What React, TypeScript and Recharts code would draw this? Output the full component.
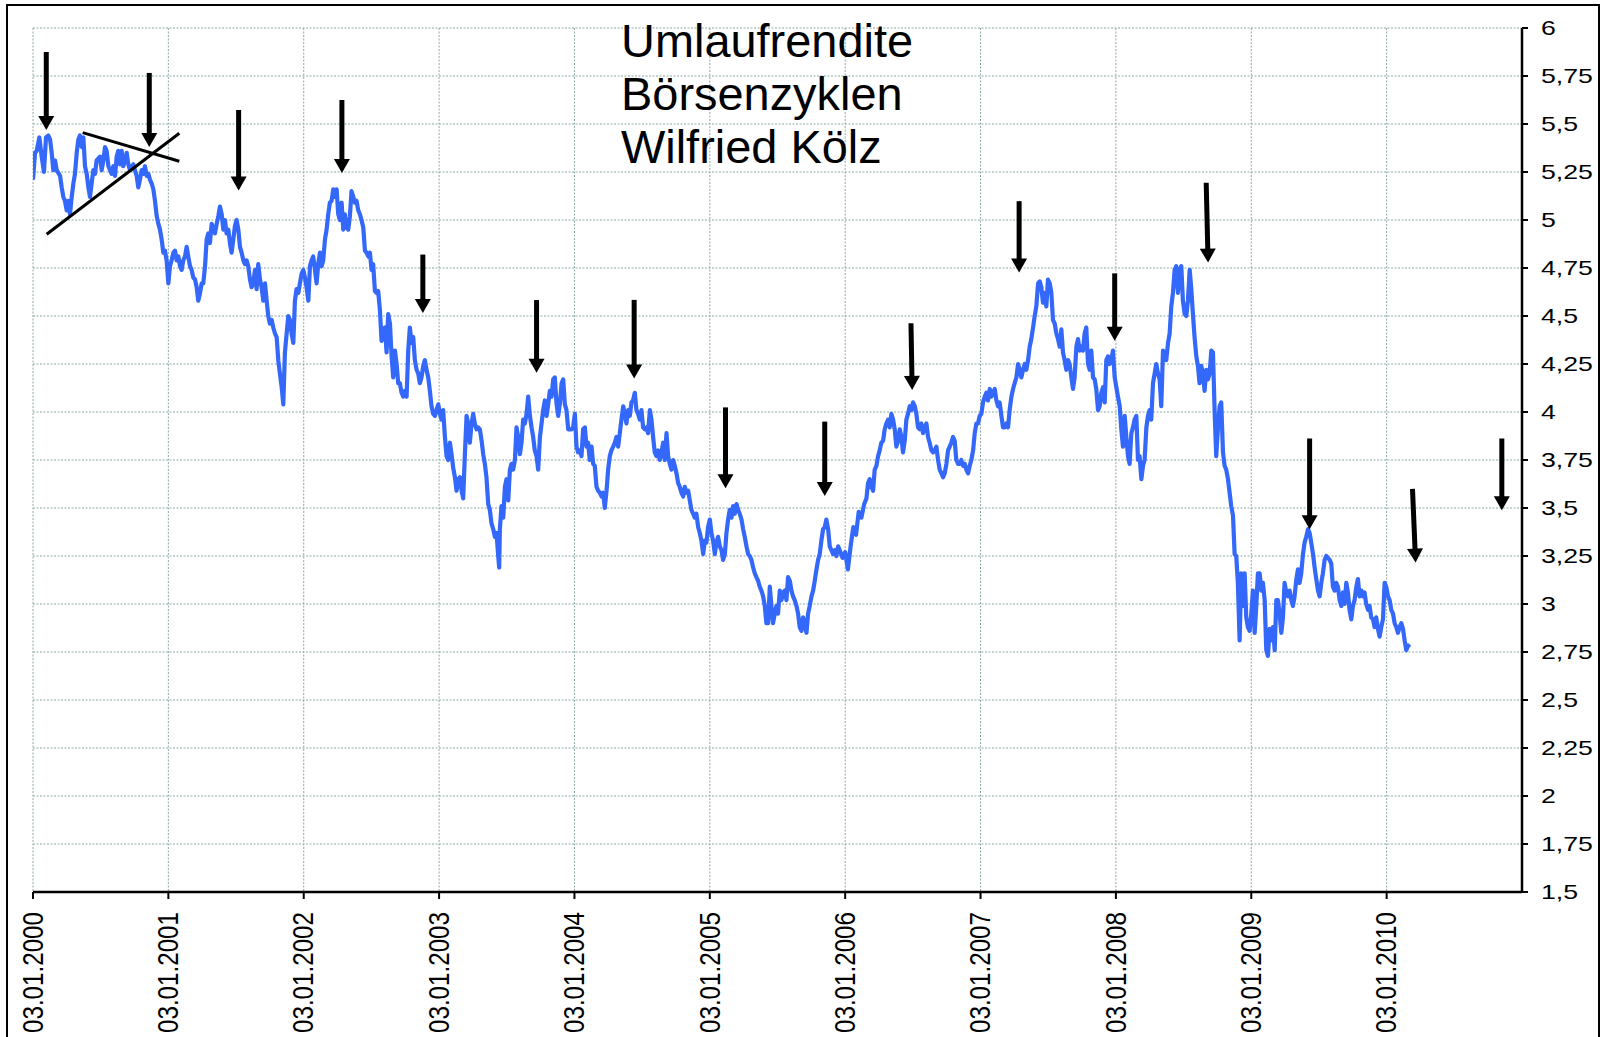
import { CartesianGrid, Line, LineChart, ReferenceLine, XAxis, YAxis } from "recharts";

// Umlaufrendite, x = years since 03.01.2000
const renditeSeries: [number, number][] = [
  [0, 5.21], [0.015, 5.35], [0.027, 5.36], [0.047, 5.43], [0.064, 5.33], [0.081, 5.25], [0.096, 5.43], [0.113, 5.44],
  [0.126, 5.42], [0.138, 5.35], [0.15, 5.26], [0.163, 5.31], [0.175, 5.26], [0.2, 5.23], [0.212, 5.17], [0.224, 5.12],
  [0.236, 5.1], [0.249, 5.05], [0.261, 5.1], [0.273, 5.03], [0.286, 5.12], [0.298, 5.19], [0.31, 5.24], [0.323, 5.35],
  [0.335, 5.42], [0.347, 5.44], [0.36, 5.38], [0.372, 5.43], [0.384, 5.28], [0.397, 5.24], [0.409, 5.17], [0.421, 5.12],
  [0.433, 5.19], [0.446, 5.26], [0.458, 5.24], [0.47, 5.31], [0.495, 5.33], [0.507, 5.26], [0.52, 5.31], [0.532, 5.38],
  [0.544, 5.36], [0.557, 5.28], [0.569, 5.26], [0.581, 5.24], [0.593, 5.28], [0.606, 5.23], [0.618, 5.33], [0.63, 5.36],
  [0.643, 5.29], [0.655, 5.36], [0.667, 5.28], [0.68, 5.31], [0.692, 5.35], [0.704, 5.29], [0.717, 5.26], [0.729, 5.28],
  [0.741, 5.29], [0.753, 5.26], [0.766, 5.23], [0.778, 5.17], [0.79, 5.21], [0.803, 5.26], [0.815, 5.24], [0.827, 5.28],
  [0.84, 5.23], [0.852, 5.24], [0.864, 5.21], [0.877, 5.19], [0.889, 5.16], [0.901, 5.1], [0.914, 5.02], [0.926, 4.98],
  [0.938, 4.95], [0.95, 4.9], [0.963, 4.83], [0.975, 4.84], [0.987, 4.79], [1.0, 4.67], [1.012, 4.76], [1.024, 4.79],
  [1.037, 4.83], [1.049, 4.84], [1.061, 4.79], [1.074, 4.81], [1.086, 4.76], [1.098, 4.74], [1.11, 4.79], [1.123, 4.81],
  [1.135, 4.86], [1.147, 4.81], [1.16, 4.76], [1.172, 4.74], [1.184, 4.7], [1.197, 4.69], [1.209, 4.65], [1.221, 4.58],
  [1.234, 4.62], [1.246, 4.67], [1.258, 4.67], [1.271, 4.76], [1.283, 4.9], [1.295, 4.93], [1.307, 4.88], [1.32, 4.98],
  [1.332, 4.95], [1.344, 4.93], [1.357, 4.98], [1.369, 5.02], [1.381, 5.07], [1.394, 5.03], [1.406, 4.95], [1.418, 5.0],
  [1.43, 4.93], [1.443, 4.95], [1.455, 4.88], [1.467, 4.83], [1.48, 4.9], [1.492, 4.97], [1.504, 5.0], [1.517, 4.95],
  [1.529, 4.86], [1.541, 4.83], [1.554, 4.79], [1.566, 4.77], [1.578, 4.79], [1.59, 4.76], [1.603, 4.69], [1.615, 4.65],
  [1.627, 4.67], [1.64, 4.74], [1.652, 4.64], [1.664, 4.77], [1.677, 4.69], [1.689, 4.65], [1.701, 4.58], [1.714, 4.67],
  [1.726, 4.58], [1.738, 4.5], [1.75, 4.46], [1.763, 4.48], [1.775, 4.44], [1.787, 4.41], [1.8, 4.39], [1.812, 4.27],
  [1.824, 4.2], [1.837, 4.13], [1.849, 4.04], [1.861, 4.31], [1.874, 4.41], [1.886, 4.5], [1.898, 4.48], [1.91, 4.41],
  [1.923, 4.36], [1.935, 4.58], [1.947, 4.64], [1.96, 4.62], [1.972, 4.67], [1.984, 4.72], [1.997, 4.74], [2.009, 4.7],
  [2.021, 4.65], [2.034, 4.58], [2.046, 4.76], [2.058, 4.79], [2.07, 4.81], [2.083, 4.74], [2.095, 4.67], [2.107, 4.77],
  [2.12, 4.83], [2.132, 4.76], [2.144, 4.79], [2.157, 4.9], [2.169, 4.95], [2.181, 5.03], [2.193, 5.09], [2.206, 5.1],
  [2.218, 5.16], [2.23, 5.12], [2.243, 5.16], [2.255, 5.03], [2.267, 5.0], [2.28, 5.09], [2.292, 4.95], [2.304, 5.03],
  [2.317, 4.96], [2.329, 4.95], [2.341, 5.02], [2.353, 5.15], [2.366, 5.12], [2.378, 5.09], [2.39, 5.1], [2.403, 5.05],
  [2.415, 5.03], [2.427, 5.0], [2.44, 4.96], [2.452, 4.84], [2.464, 4.83], [2.477, 4.81], [2.489, 4.83], [2.501, 4.74],
  [2.513, 4.77], [2.526, 4.63], [2.538, 4.62], [2.55, 4.63], [2.563, 4.53], [2.575, 4.37], [2.587, 4.43], [2.6, 4.44],
  [2.612, 4.31], [2.624, 4.51], [2.637, 4.46], [2.649, 4.29], [2.661, 4.18], [2.674, 4.32], [2.686, 4.25], [2.698, 4.15],
  [2.71, 4.15], [2.723, 4.1], [2.735, 4.08], [2.747, 4.11], [2.76, 4.08], [2.772, 4.32], [2.784, 4.44], [2.797, 4.36],
  [2.809, 4.39], [2.821, 4.27], [2.834, 4.22], [2.846, 4.2], [2.858, 4.15], [2.87, 4.18], [2.883, 4.24], [2.895, 4.27],
  [2.907, 4.22], [2.92, 4.18], [2.932, 4.11], [2.944, 4.03], [2.957, 3.99], [2.969, 3.98], [2.981, 4.01], [2.994, 4.04],
  [3.006, 3.99], [3.018, 3.96], [3.03, 4.01], [3.043, 3.87], [3.055, 3.77], [3.067, 3.75], [3.08, 3.84], [3.092, 3.78],
  [3.104, 3.71], [3.117, 3.66], [3.129, 3.59], [3.141, 3.65], [3.154, 3.66], [3.166, 3.59], [3.178, 3.55], [3.19, 3.77],
  [3.203, 3.98], [3.215, 3.94], [3.227, 3.84], [3.24, 3.94], [3.252, 3.99], [3.264, 3.94], [3.277, 3.91], [3.289, 3.92],
  [3.301, 3.91], [3.314, 3.85], [3.326, 3.78], [3.338, 3.73], [3.35, 3.66], [3.363, 3.52], [3.375, 3.49], [3.387, 3.42],
  [3.4, 3.39], [3.412, 3.35], [3.424, 3.37], [3.437, 3.25], [3.444, 3.19], [3.449, 3.39], [3.461, 3.51], [3.474, 3.45],
  [3.486, 3.61], [3.498, 3.65], [3.511, 3.54], [3.523, 3.7], [3.535, 3.73], [3.547, 3.7], [3.56, 3.75], [3.572, 3.92],
  [3.584, 3.87], [3.597, 3.78], [3.609, 3.84], [3.621, 3.96], [3.634, 3.94], [3.646, 3.99], [3.658, 4.08], [3.671, 3.98],
  [3.683, 3.92], [3.695, 3.87], [3.707, 3.8], [3.72, 3.77], [3.732, 3.7], [3.745, 3.87], [3.757, 3.94], [3.769, 4.01],
  [3.781, 4.06], [3.794, 3.98], [3.806, 4.04], [3.818, 4.11], [3.831, 4.08], [3.843, 4.17], [3.855, 4.18], [3.868, 4.04],
  [3.88, 3.98], [3.892, 4.04], [3.905, 4.15], [3.917, 4.17], [3.929, 4.04], [3.941, 4.01], [3.954, 3.91], [3.966, 3.91],
  [3.978, 3.91], [3.99, 3.92], [4.003, 3.99], [4.015, 3.82], [4.027, 3.79], [4.04, 3.8], [4.052, 3.77], [4.064, 3.91],
  [4.077, 3.92], [4.089, 3.82], [4.101, 3.84], [4.113, 3.75], [4.126, 3.82], [4.138, 3.73], [4.15, 3.72], [4.163, 3.61],
  [4.175, 3.59], [4.187, 3.58], [4.2, 3.56], [4.212, 3.58], [4.224, 3.5], [4.237, 3.59], [4.249, 3.7], [4.261, 3.77],
  [4.273, 3.8], [4.286, 3.82], [4.298, 3.84], [4.31, 3.87], [4.323, 3.82], [4.335, 3.89], [4.347, 3.96], [4.36, 4.03],
  [4.372, 3.99], [4.384, 3.94], [4.397, 4.01], [4.409, 3.98], [4.421, 4.05], [4.433, 4.06], [4.446, 4.1], [4.458, 4.01],
  [4.47, 3.99], [4.483, 3.96], [4.495, 4.01], [4.507, 3.92], [4.52, 3.91], [4.532, 3.92], [4.544, 3.89], [4.557, 4.01],
  [4.569, 3.96], [4.581, 3.87], [4.593, 3.79], [4.606, 3.77], [4.618, 3.8], [4.63, 3.75], [4.643, 3.79], [4.655, 3.84],
  [4.667, 3.75], [4.68, 3.89], [4.692, 3.77], [4.704, 3.73], [4.717, 3.7], [4.729, 3.75], [4.741, 3.72], [4.754, 3.68],
  [4.766, 3.63], [4.778, 3.61], [4.79, 3.58], [4.803, 3.56], [4.815, 3.61], [4.827, 3.58], [4.84, 3.59], [4.852, 3.54],
  [4.864, 3.49], [4.877, 3.47], [4.889, 3.45], [4.901, 3.47], [4.914, 3.4], [4.926, 3.37], [4.938, 3.33], [4.951, 3.26],
  [4.963, 3.33], [4.975, 3.32], [4.987, 3.4], [5.0, 3.44], [5.012, 3.37], [5.024, 3.33], [5.037, 3.26], [5.049, 3.32],
  [5.061, 3.35], [5.074, 3.3], [5.086, 3.28], [5.098, 3.23], [5.111, 3.26], [5.123, 3.37], [5.135, 3.44], [5.147, 3.49],
  [5.16, 3.45], [5.172, 3.51], [5.184, 3.47], [5.197, 3.52], [5.209, 3.49], [5.221, 3.47], [5.234, 3.44], [5.246, 3.39],
  [5.258, 3.35], [5.271, 3.3], [5.283, 3.26], [5.295, 3.25], [5.307, 3.23], [5.32, 3.19], [5.332, 3.16], [5.344, 3.14],
  [5.357, 3.12], [5.369, 3.09], [5.381, 3.07], [5.394, 3.04], [5.406, 2.99], [5.418, 2.9], [5.431, 2.9], [5.443, 3.09],
  [5.455, 2.99], [5.467, 2.9], [5.48, 2.95], [5.492, 2.99], [5.504, 2.95], [5.517, 3.07], [5.529, 3.02], [5.541, 3.06],
  [5.554, 3.07], [5.566, 3.02], [5.578, 3.14], [5.591, 3.12], [5.603, 3.07], [5.615, 3.04], [5.627, 3.02], [5.64, 2.99],
  [5.652, 2.95], [5.664, 2.88], [5.677, 2.86], [5.689, 2.93], [5.701, 2.9], [5.714, 2.85], [5.726, 2.95], [5.738, 2.99],
  [5.751, 3.04], [5.763, 3.07], [5.775, 3.12], [5.788, 3.18], [5.8, 3.23], [5.812, 3.26], [5.824, 3.33], [5.837, 3.39],
  [5.849, 3.4], [5.861, 3.44], [5.874, 3.39], [5.886, 3.3], [5.898, 3.28], [5.911, 3.26], [5.923, 3.28], [5.935, 3.25],
  [5.948, 3.3], [5.96, 3.28], [5.98, 3.24], [6.0, 3.27], [6.02, 3.18], [6.04, 3.3], [6.06, 3.4], [6.08, 3.36],
  [6.1, 3.48], [6.12, 3.45], [6.14, 3.52], [6.157, 3.55], [6.169, 3.63], [6.181, 3.65], [6.194, 3.61], [6.206, 3.59],
  [6.218, 3.7], [6.231, 3.72], [6.243, 3.77], [6.255, 3.8], [6.267, 3.84], [6.28, 3.85], [6.292, 3.91], [6.304, 3.94],
  [6.317, 3.96], [6.329, 3.92], [6.341, 3.99], [6.354, 3.96], [6.366, 3.91], [6.378, 3.82], [6.391, 3.85], [6.403, 3.91],
  [6.415, 3.87], [6.427, 3.79], [6.44, 3.85], [6.452, 3.96], [6.464, 3.99], [6.477, 4.03], [6.489, 4.01], [6.501, 4.05],
  [6.514, 4.03], [6.526, 3.99], [6.538, 3.92], [6.551, 3.91], [6.563, 3.94], [6.575, 3.89], [6.588, 3.92], [6.6, 3.94],
  [6.612, 3.87], [6.624, 3.84], [6.637, 3.8], [6.649, 3.79], [6.661, 3.8], [6.674, 3.82], [6.686, 3.75], [6.698, 3.7],
  [6.711, 3.68], [6.723, 3.66], [6.735, 3.68], [6.748, 3.73], [6.76, 3.8], [6.772, 3.82], [6.784, 3.84], [6.797, 3.87],
  [6.809, 3.85], [6.821, 3.75], [6.834, 3.73], [6.846, 3.73], [6.858, 3.75], [6.871, 3.72], [6.883, 3.73], [6.895, 3.7],
  [6.908, 3.68], [6.92, 3.72], [6.932, 3.75], [6.945, 3.8], [6.957, 3.89], [6.969, 3.94], [6.981, 3.94], [6.994, 3.98],
  [7.006, 3.99], [7.018, 4.05], [7.031, 4.08], [7.043, 4.1], [7.055, 4.06], [7.068, 4.12], [7.08, 4.08], [7.092, 4.1],
  [7.105, 4.12], [7.117, 4.06], [7.129, 4.03], [7.141, 4.05], [7.154, 3.98], [7.166, 3.92], [7.178, 3.92], [7.191, 3.94],
  [7.203, 3.92], [7.215, 4.01], [7.228, 4.08], [7.24, 4.12], [7.252, 4.15], [7.265, 4.18], [7.277, 4.25], [7.289, 4.22],
  [7.301, 4.18], [7.314, 4.22], [7.326, 4.25], [7.338, 4.22], [7.351, 4.27], [7.363, 4.34], [7.375, 4.38], [7.388, 4.44],
  [7.4, 4.5], [7.412, 4.55], [7.425, 4.67], [7.437, 4.68], [7.449, 4.65], [7.461, 4.57], [7.474, 4.62], [7.486, 4.55],
  [7.498, 4.69], [7.511, 4.67], [7.523, 4.62], [7.535, 4.48], [7.548, 4.46], [7.56, 4.41], [7.572, 4.38], [7.585, 4.34],
  [7.597, 4.43], [7.609, 4.31], [7.621, 4.27], [7.634, 4.22], [7.646, 4.27], [7.658, 4.25], [7.671, 4.18], [7.683, 4.12],
  [7.695, 4.18], [7.708, 4.34], [7.72, 4.38], [7.732, 4.32], [7.745, 4.34], [7.757, 4.32], [7.769, 4.41], [7.781, 4.44],
  [7.794, 4.25], [7.806, 4.22], [7.818, 4.32], [7.831, 4.18], [7.843, 4.17], [7.855, 4.12], [7.868, 4.01], [7.88, 4.03],
  [7.892, 4.1], [7.905, 4.13], [7.917, 4.05], [7.929, 4.27], [7.942, 4.29], [7.954, 4.25], [7.966, 4.27], [7.978, 4.32],
  [7.991, 4.18], [8.003, 4.13], [8.015, 4.08], [8.028, 4.03], [8.04, 3.91], [8.052, 3.82], [8.065, 3.98], [8.077, 3.87],
  [8.089, 3.77], [8.101, 3.73], [8.114, 3.89], [8.126, 3.92], [8.138, 3.96], [8.151, 3.98], [8.163, 3.75], [8.175, 3.77],
  [8.188, 3.65], [8.2, 3.72], [8.212, 3.75], [8.225, 3.92], [8.237, 3.98], [8.249, 4.01], [8.261, 3.96], [8.274, 4.15],
  [8.286, 4.2], [8.298, 4.25], [8.311, 4.2], [8.323, 4.17], [8.335, 4.03], [8.348, 4.32], [8.36, 4.31], [8.372, 4.27],
  [8.385, 4.36], [8.397, 4.41], [8.409, 4.55], [8.421, 4.62], [8.434, 4.74], [8.446, 4.76], [8.458, 4.62], [8.471, 4.74],
  [8.483, 4.76], [8.495, 4.58], [8.508, 4.51], [8.52, 4.5], [8.532, 4.58], [8.545, 4.74], [8.557, 4.64], [8.569, 4.51],
  [8.581, 4.39], [8.594, 4.29], [8.606, 4.24], [8.618, 4.15], [8.631, 4.24], [8.643, 4.2], [8.655, 4.11], [8.668, 4.22],
  [8.68, 4.17], [8.692, 4.2], [8.705, 4.32], [8.717, 4.31], [8.729, 4.01], [8.741, 3.77], [8.754, 3.92], [8.766, 4.03],
  [8.778, 4.05], [8.791, 3.79], [8.803, 3.72], [8.815, 3.7], [8.828, 3.65], [8.84, 3.58], [8.852, 3.51], [8.865, 3.46],
  [8.877, 3.26], [8.889, 3.25], [8.901, 3.11], [8.914, 2.81], [8.926, 3.16], [8.938, 2.99], [8.951, 3.16], [8.963, 2.93],
  [8.975, 2.88], [8.988, 2.86], [9.0, 2.95], [9.012, 3.07], [9.025, 2.85], [9.037, 2.99], [9.049, 3.16], [9.062, 3.16],
  [9.074, 3.07], [9.086, 3.11], [9.099, 3.02], [9.111, 2.76], [9.123, 2.73], [9.136, 2.87], [9.148, 2.81], [9.16, 2.88],
  [9.173, 2.76], [9.185, 3.02], [9.197, 3.02], [9.209, 2.95], [9.222, 2.85], [9.234, 2.93], [9.246, 3.11], [9.259, 3.06],
  [9.271, 3.04], [9.283, 3.07], [9.296, 3.02], [9.308, 2.99], [9.32, 3.04], [9.333, 3.13], [9.345, 3.18], [9.357, 3.11],
  [9.369, 3.16], [9.382, 3.26], [9.394, 3.32], [9.406, 3.35], [9.419, 3.39], [9.431, 3.37], [9.443, 3.32], [9.456, 3.26],
  [9.468, 3.19], [9.48, 3.13], [9.493, 3.07], [9.505, 3.04], [9.517, 3.11], [9.529, 3.16], [9.542, 3.23], [9.554, 3.25],
  [9.566, 3.24], [9.579, 3.23], [9.591, 3.21], [9.603, 3.09], [9.616, 3.07], [9.628, 3.11], [9.64, 3.09], [9.653, 3.02],
  [9.665, 2.99], [9.677, 3.06], [9.689, 3.0], [9.702, 3.11], [9.714, 3.06], [9.726, 2.97], [9.739, 2.92], [9.751, 2.99],
  [9.763, 3.02], [9.776, 3.09], [9.788, 3.13], [9.8, 3.04], [9.813, 3.07], [9.825, 3.04], [9.837, 3.06], [9.849, 3.0],
  [9.862, 2.97], [9.874, 2.99], [9.886, 2.93], [9.899, 2.92], [9.911, 2.88], [9.923, 2.93], [9.936, 2.87], [9.948, 2.83],
  [9.96, 2.88], [9.973, 2.92], [9.985, 3.11], [9.997, 3.09], [10.01, 3.04], [10.022, 3.02], [10.034, 2.97], [10.047, 2.95],
  [10.059, 2.9], [10.071, 2.88], [10.084, 2.85], [10.096, 2.88], [10.108, 2.9], [10.121, 2.87], [10.133, 2.81], [10.145, 2.76],
  [10.157, 2.78], [10.17, 2.79],
];

const yearLabels = [
  "03.01.2000", "03.01.2001", "03.01.2002", "03.01.2003", "03.01.2004", "03.01.2005",
  "03.01.2006", "03.01.2007", "03.01.2008", "03.01.2009", "03.01.2010",
];
const xTicks = [0, 1, 2, 3, 4, 5, 6, 7, 8, 9, 10];
const yTicks = [1.5, 1.75, 2, 2.25, 2.5, 2.75, 3, 3.25, 3.5, 3.75, 4, 4.25, 4.5, 4.75, 5, 5.25, 5.5, 5.75, 6];

// cycle arrows: [x, top value, x at tip, tip value]
const cycleArrows: [number, number, number, number][] = [
  [0.098, 5.875, 0.098, 5.469],
  [0.859, 5.766, 0.859, 5.38],
  [1.519, 5.573, 1.519, 5.153],
  [2.282, 5.625, 2.282, 5.245],
  [2.88, 4.82, 2.88, 4.515],
  [3.72, 4.583, 3.72, 4.205],
  [4.441, 4.584, 4.441, 4.175],
  [5.116, 4.024, 5.116, 3.603],
  [5.849, 3.95, 5.849, 3.563],
  [6.486, 4.462, 6.495, 4.115],
  [7.285, 5.098, 7.285, 4.726],
  [7.991, 4.722, 7.991, 4.371],
  [8.667, 5.194, 8.681, 4.778],
  [9.431, 3.862, 9.431, 3.389],
  [10.191, 3.6, 10.214, 3.216],
  [10.851, 3.862, 10.851, 3.488],
];

// triangle formation in 2000
const triangleLines: [number, number, number, number][] = [
  [0.101, 4.926, 1.081, 5.452],
  [0.367, 5.455, 1.081, 5.306],
];

const titleLines = ["Umlaufrendite", "Börsenzyklen", "Wilfried Kölz"];

const chartData = renditeSeries.map(([t, v]) => ({ t, v }));

const FONT = '"Liberation Sans", Arial, sans-serif';

function ArrowShape(props: any) {
  const { x1, y1, x2, y2 } = props;
  const dx = x2 - x1;
  const dy = y2 - y1;
  const len = Math.hypot(dx, dy) || 1;
  const ux = dx / len;
  const uy = dy / len;
  const head = 14;
  const half = 8;
  const bx = x2 - ux * head;
  const by = y2 - uy * head;
  return (
    <g>
      <line x1={x1} y1={y1} x2={bx + ux} y2={by + uy} stroke="#000" strokeWidth={5} />
      <polygon
        points={`${x2},${y2} ${bx - uy * half},${by + ux * half} ${bx + uy * half},${by - ux * half}`}
        fill="#000"
      />
    </g>
  );
}

function XTick(props: any) {
  const { x, payload } = props;
  return (
    <text
      transform={`translate(${x},912) rotate(-90) scale(0.84,1)`}
      textAnchor="end"
      dominantBaseline="central"
      fontFamily={FONT}
      fontSize={28.8}
      fill="#000"
    >
      {yearLabels[payload.value]}
    </text>
  );
}

function YTick(props: any) {
  const { x, y, payload } = props;
  return (
    <text
      transform={`translate(${x},${y}) scale(1.27,1)`}
      textAnchor="start"
      dominantBaseline="central"
      fontFamily={FONT}
      fontSize={21}
      fill="#000"
    >
      {String(payload.value).replace(".", ",")}
    </text>
  );
}

export default function App() {
  return (
    <div style={{ position: "relative", width: 1610, height: 1037, overflow: "hidden", background: "#fff" }}>
      <style>{"body{margin:0;overflow:hidden;background:#fff}"}</style>
      <div
        style={{
          position: "absolute",
          left: 6,
          top: 3.5,
          width: 1593.5,
          height: 1200,
          border: "2.5px solid #000",
          boxSizing: "border-box",
        }}
      />
      <div style={{ position: "absolute", left: 0, top: 0 }}>
        <LineChart width={1610} height={1037} data={chartData} margin={{ top: 28, left: 33, right: 8, bottom: 5 }}>
          <CartesianGrid stroke="#8ea8a8" strokeDasharray="2 1.5" strokeWidth={1} />
          <XAxis
            dataKey="t"
            type="number"
            domain={[0, 11]}
            ticks={xTicks}
            allowDataOverflow
            height={140}
            tickSize={7}
            tickMargin={13}
            axisLine={{ stroke: "#000", strokeWidth: 2.5 }}
            tickLine={{ stroke: "#000", strokeWidth: 2 }}
            tick={<XTick />}
            interval={0}
          />
          <YAxis
            orientation="right"
            type="number"
            domain={[1.5, 6]}
            ticks={yTicks}
            allowDataOverflow
            width={80}
            tickSize={6}
            tickMargin={13}
            axisLine={{ stroke: "#000", strokeWidth: 2.5 }}
            tickLine={{ stroke: "#000", strokeWidth: 2 }}
            tick={<YTick />}
            interval={0}
          />
          <Line
            type="linear"
            dataKey="v"
            stroke="#3468fa"
            strokeWidth={4.2}
            strokeLinejoin="round"
            dot={false}
            isAnimationActive={false}
          />
          {triangleLines.map(([xa, ya, xb, yb], i) => (
            <ReferenceLine
              key={`tri-${i}`}
              segment={[{ x: xa, y: ya }, { x: xb, y: yb }]}
              stroke="#000"
              strokeWidth={3}
              ifOverflow="visible"
            />
          ))}
          {cycleArrows.map(([xa, ya, xb, yb], i) => (
            <ReferenceLine
              key={`arrow-${i}`}
              segment={[{ x: xa, y: ya }, { x: xb, y: yb }]}
              ifOverflow="visible"
              shape={ArrowShape}
            />
          ))}
        </LineChart>
      </div>
      <svg width={1610} height={1037} style={{ position: "absolute", left: 0, top: 0, pointerEvents: "none" }}>
        {titleLines.map((line, i) => (
          <text
            key={line}
            transform={`translate(621,${[57, 110, 163][i]}) scale(1.02,1)`}
            fontFamily={FONT}
            fontSize={46}
            fill="#000"
          >
            {line}
          </text>
        ))}
      </svg>
    </div>
  );
}
